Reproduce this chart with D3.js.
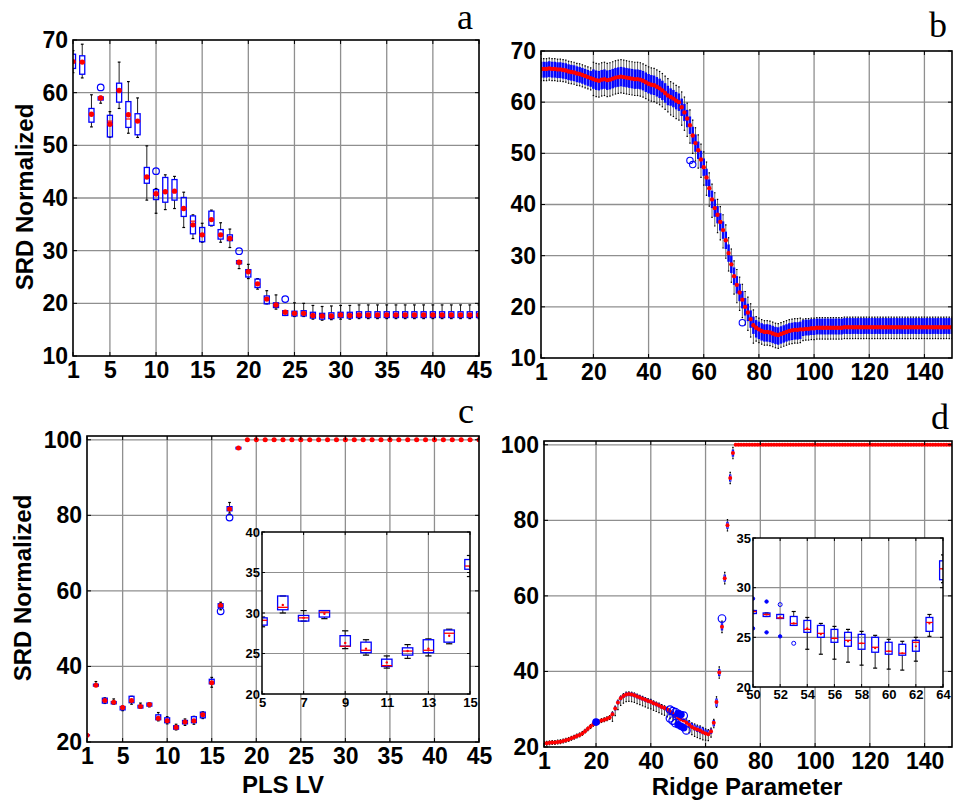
<!DOCTYPE html>
<html>
<head>
<meta charset="utf-8">
<script src="https://cdn.jsdelivr.net/npm/d3@7"></script>
<style>
  body { margin: 0; background: #fff; }
  svg text { font-family: "Liberation Sans", Arial, sans-serif; font-weight: bold; }
</style>
</head>
<body>
<div id="chart"></div>
<script>
// SRD boxplots: a/c = PLS latent variables, b/d = ridge parameter

// ---- panel a (PLS LV 1..45) ----
const aMean = [65.9,65.8,55.9,59.0,54.0,60.4,55.8,54.6,44.0,40.8,
  41.2,41.3,38.0,34.9,33.0,35.9,33.0,32.3,27.8,26.0,
  23.7,20.8,19.7,18.3,18.1,18.1,17.7,17.6,17.6,17.8,
  17.7,17.8,17.8,17.8,17.8,17.8,17.8,17.8,17.8,17.8,
  17.8,17.8,17.8,17.8,17.8];
const aMed = [65.9,65.8,55.9,59.0,54.6,60.4,55.0,54.6,44.0,40.8,
  41.2,41.3,38.0,35.6,33.0,35.9,33.0,32.3,27.8,26.0,
  23.7,20.8,19.7,18.3,18.1,18.1,17.7,17.6,17.6,17.8,
  17.7,17.8,17.8,17.8,17.8,17.8,17.8,17.8,17.8,17.8,
  17.8,17.8,17.8,17.8,17.8];
const aQ1 = [64.6,63.5,54.4,58.6,51.6,58.2,53.4,52.0,42.8,39.7,
  39.2,39.6,36.5,33.2,31.7,34.8,32.2,31.9,27.5,25.0,
  23.0,19.9,19.2,17.7,17.6,17.6,17.2,17.0,17.1,17.3,
  17.2,17.3,17.3,17.3,17.3,17.3,17.3,17.3,17.3,17.3,
  17.3,17.3,17.3,17.3,17.3];
const aQ3 = [67.3,67.0,57.0,59.2,55.7,61.8,58.3,56.0,45.8,41.6,
  43.9,43.5,40.1,36.6,34.4,37.5,34.0,33.0,28.1,26.4,
  24.6,21.4,20.1,18.6,18.5,18.6,18.3,18.1,18.2,18.3,
  18.3,18.4,18.4,18.4,18.4,18.4,18.4,18.4,18.4,18.4,
  18.4,18.4,18.4,18.4,18.4];
const aLo = [63.8,62.8,53.5,58.0,51.5,57.0,52.3,51.5,39.6,37.1,
  37.8,38.0,34.4,32.3,31.6,34.7,31.6,30.6,26.6,24.7,
  22.7,19.9,18.9,17.7,17.5,17.5,17.0,16.8,16.9,17.0,
  17.0,17.1,17.1,17.1,17.1,17.1,17.1,17.1,17.1,17.1,
  17.1,17.1,17.1,17.1,17.1];
const aHi = [68.0,69.2,59.6,59.3,56.4,65.8,62.1,59.0,49.9,41.8,
  44.4,44.1,41.1,36.8,35.2,37.7,35.3,34.1,28.1,27.4,
  24.7,22.4,21.6,18.6,20.1,20.0,19.6,19.4,19.5,19.6,
  19.6,19.7,19.7,19.7,19.7,19.7,19.7,19.7,19.7,19.7,
  19.7,19.7,19.7,19.7,19.7];
const aOut = [[4, 61.0], [10, 45.1], [19, 29.9], [24, 20.8]];

// ---- panel b (ridge parameter 1..150) ----
const bMed = [66.5,66.5,66.5,66.6,66.5,66.5,66.4,66.4,66.3,66.2,
  66.0,65.9,65.8,65.6,65.5,65.3,65.1,64.9,64.7,64.5,
  64.3,64.2,64.4,64.5,64.3,64.4,64.6,64.8,64.9,65.0,
  64.9,64.8,64.7,64.6,64.5,64.5,64.4,64.2,63.9,63.6,
  63.4,63.3,63.0,62.7,62.3,61.8,61.3,61.0,60.7,60.3,
  60.0,59.0,58.0,56.8,55.5,53.5,52.0,50.6,48.8,47.3,
  45.3,43.2,41.0,39.3,38.0,36.6,35.0,33.0,30.5,28.3,
  26.0,24.3,22.8,21.4,20.0,18.9,17.6,16.4,15.9,15.6,
  15.3,15.1,15.1,15.0,14.8,14.6,14.5,14.7,14.9,15.1,
  15.3,15.4,15.5,15.5,15.6,15.6,15.7,15.7,15.8,15.8,
  15.9,15.9,15.9,15.9,15.9,15.9,15.9,15.9,15.9,15.9,
  16.0,16.0,16.0,16.0,16.0,16.0,16.0,16.0,16.0,16.0,
  16.0,16.0,16.0,16.0,16.0,16.0,16.0,16.0,16.0,16.0,
  16.0,16.0,16.0,16.0,16.0,16.0,16.0,16.0,16.0,16.0,
  16.0,16.0,16.0,16.0,16.0,16.0,16.0,16.0,16.0,16.0];
// spread around median per range: [from, to, q1, q3, lowWhisker, highWhisker]
const bSpread = [
  [1, 19, -1.6, 1.3, -2.3, 2.0],
  [20, 47, -1.8, 1.8, -3.2, 3.3],
  [48, 78, -1.6, 1.6, -3.5, 3.0],
  [79, 95, -1.8, 1.4, -2.6, 2.2],
  [96, 150, -1.2, 1.7, -2.2, 2.0]
];
const bOut = [[55, 48.6], [56, 47.8], [74, 16.9]];

// ---- panel c (PLS LV 1..45) ----
const cMean = [21.8,35.0,31.0,30.5,29.1,31.0,29.4,29.9,26.3,25.6,
  23.9,25.3,25.6,27.2,35.7,56.1,81.7,97.8,100,100,
  100,100,100,100,100,100,100,100,100,100,
  100,100,100,100,100,100,100,100,100,100,
  100,100,100,100,100];
const cMed = [21.8,35.0,31.0,30.5,29.1,30.7,29.4,30.1,25.9,25.4,
  23.5,25.3,25.4,27.5,35.8,56.1,81.8,97.8,100,100,
  100,100,100,100,100,100,100,100,100,100,
  100,100,100,100,100,100,100,100,100,100,
  100,100,100,100,100];
const cQ1 = [21.7,34.8,30.3,30.1,28.5,30.4,29.0,29.5,25.9,25.1,
  23.4,24.8,25.1,26.4,35.4,55.6,81.2,97.6,100,100,
  100,100,100,100,100,100,100,100,100,100,
  100,100,100,100,100,100,100,100,100,100,
  100,100,100,100,100];
const cQ3 = [21.9,35.3,31.6,30.7,29.4,32.1,29.7,30.3,27.2,26.4,
  24.3,25.7,26.7,27.9,36.6,56.6,82.3,98.0,100,100,
  100,100,100,100,100,100,100,100,100,100,
  100,100,100,100,100,100,100,100,100,100,
  100,100,100,100,100];
const cLo = [21.7,34.7,30.2,30.0,28.3,30.0,29.0,29.3,25.6,24.8,
  23.2,24.4,24.7,26.2,34.5,55.0,80.6,97.5,100,100,
  100,100,100,100,100,100,100,100,100,100,
  100,100,100,100,100,100,100,100,100,100,
  100,100,100,100,100];
const cHi = [21.9,36.0,31.7,31.4,29.5,32.1,30.3,30.3,27.8,26.7,
  24.7,26.1,26.8,28.0,37.1,57.0,83.4,98.1,100,100,
  100,100,100,100,100,100,100,100,100,100,
  100,100,100,100,100,100,100,100,100,100,
  100,100,100,100,100];
const cOut = [[16, 54.6], [17, 79.4]];

// ---- panel d (ridge parameter 1..150) ----
const dMean = [21.0,21.0,21.1,21.2,21.2,21.3,21.4,21.6,21.8,22.0,
  22.3,22.6,22.9,23.2,23.6,24.2,24.8,25.4,26.0,26.4,
  26.7,27.0,27.2,27.5,27.8,28.7,30.2,31.8,32.9,33.5,
  33.9,34.0,33.9,33.7,33.4,33.1,32.8,32.5,32.2,32.0,
  31.6,31.3,31.0,30.6,30.3,29.9,29.4,28.9,28.3,27.6,
  27.3,27.0,26.4,25.9,25.3,24.9,24.6,24.4,23.9,23.6,
  23.4,24.1,26.4,31.9,39.7,51.8,64.7,78.7,91.2,97.8,
  100,100,100,100,100,100,100,100,100,100,
  100,100,100,100,100,100,100,100,100,100,
  100,100,100,100,100,100,100,100,100,100,
  100,100,100,100,100,100,100,100,100,100,
  100,100,100,100,100,100,100,100,100,100,
  100,100,100,100,100,100,100,100,100,100,
  100,100,100,100,100,100,100,100,100,100,
  100,100,100,100,100,100,100,100,100,100];
const dSpread = [
  [1, 25, -0.2, 0.2, -0.5, 0.5],
  [26, 49, -0.4, 0.4, -1.9, 0.6],
  [65, 70, -0.8, 0.8, -1.5, 1.5],
  [71, 150, 0, 0, 0, 0]
];
// boxes 50..64
const dDetX = [50,51,52,53,54,55,56,57,58,59,60,61,62,63,64];
const dDetMed = [27.6,27.3,26.95,26.4,25.8,25.4,24.9,24.7,24.4,24.0,23.6,23.4,24.5,26.5,31.9];
const dDetQ1 = [27.4,27.1,26.9,26.2,25.5,25.0,24.5,24.1,23.8,23.5,23.3,23.2,23.6,25.6,30.8];
const dDetQ3 = [27.7,27.45,27.3,27.1,26.7,26.2,25.8,25.5,25.3,25.0,24.5,24.3,24.7,27.0,32.7];
const dDetLo = [27.4,27.1,26.9,26.2,23.8,23.3,22.8,22.5,22.2,21.9,21.8,21.7,22.6,25.1,30.5];
const dDetHi = [27.7,27.45,27.3,27.6,27.0,26.4,26.1,25.8,25.6,25.2,24.8,24.6,25.0,27.3,33.3];
// [x, value, filled]
const dOut = [[20, 26.6, 1], [47, 29.9, 0], [47, 27.6, 0], [48, 29.5, 0], [48, 27.0, 0],
  [49, 29.2, 0], [49, 26.3, 0], [50, 28.9, 1], [50, 25.9, 1], [51, 28.6, 1], [51, 25.5, 1],
  [52, 28.3, 0], [52, 25.1, 1], [53, 24.4, 0], [66, 54.0, 0]];

const lvTicks = [1, 5, 10, 15, 20, 25, 30, 35, 40, 45];
const ridgeTicks = [1, 20, 40, 60, 80, 100, 120, 140];

// ---------------------------------------------------------------
const BLUE = "#0000ff", RED = "#ff0000";
const svg = d3.select("#chart").append("svg").attr("width", 953).attr("height", 809);

const aBoxes = d3.range(45).map(i => ({ x: i + 1, mean: aMean[i], med: aMed[i], q1: aQ1[i], q3: aQ3[i], lo: aLo[i], hi: aHi[i] }));
const cBoxes = d3.range(45).map(i => ({ x: i + 1, mean: cMean[i], med: cMed[i], q1: cQ1[i], q3: cQ3[i], lo: cLo[i], hi: cHi[i] }));

function spreadBox(m, i, spread) {
  const s = spread.find(s => i + 1 >= s[0] && i + 1 <= s[1]);
  return { x: i + 1, mean: m, med: m, q1: m + s[2], q3: m + s[3], lo: m + s[4], hi: m + s[5] };
}
const bBoxes = bMed.map((m, i) => spreadBox(m, i, bSpread));
const dBoxes = dMean.map((m, i) => {
  const j = dDetX.indexOf(i + 1);
  if (j >= 0) return { x: i + 1, mean: m, med: dDetMed[j], q1: dDetQ1[j], q3: dDetQ3[j], lo: dDetLo[j], hi: dDetHi[j] };
  return spreadBox(m, i, dSpread);
});

let clipN = 0;
function makePanel(o) {
  const x = d3.scaleLinear().domain(o.xDom).range([o.l, o.r]);
  const y = d3.scaleLinear().domain(o.yDom).range([o.b, o.t]);
  const g = svg.append("g");
  g.append("rect").attr("x", o.l).attr("y", o.t).attr("width", o.r - o.l).attr("height", o.b - o.t).attr("fill", "#fff");

  // grid
  g.append("g").selectAll("line").data(o.xGrid).join("line")
    .attr("x1", d => x(d)).attr("x2", d => x(d)).attr("y1", o.t).attr("y2", o.b)
    .attr("stroke", "#8f8f8f").attr("stroke-width", o.gw);
  g.append("g").selectAll("line").data(o.yGrid).join("line")
    .attr("y1", d => y(d)).attr("y2", d => y(d)).attr("x1", o.l).attr("x2", o.r)
    .attr("stroke", "#8f8f8f").attr("stroke-width", o.gw);

  const id = "clip" + (clipN++);
  svg.append("clipPath").attr("id", id).append("rect")
    .attr("x", o.l).attr("y", o.t).attr("width", o.r - o.l).attr("height", o.b - o.t);
  const plot = g.append("g").attr("clip-path", `url(#${id})`);
  return { g, plot, x, y, o };
}

function finishPanel(p) {
  const { g, x, y, o } = p;
  const tk = o.tick;
  // inward ticks on all four sides
  const tg = g.append("g").attr("stroke", "#000").attr("stroke-width", 1);
  o.xTicks.forEach(v => {
    tg.append("line").attr("x1", x(v)).attr("x2", x(v)).attr("y1", o.b).attr("y2", o.b - tk);
    tg.append("line").attr("x1", x(v)).attr("x2", x(v)).attr("y1", o.t).attr("y2", o.t + tk);
  });
  o.yTicks.forEach(v => {
    tg.append("line").attr("y1", y(v)).attr("y2", y(v)).attr("x1", o.l).attr("x2", o.l + tk);
    tg.append("line").attr("y1", y(v)).attr("y2", y(v)).attr("x1", o.r).attr("x2", o.r - tk);
  });
  g.append("rect").attr("x", o.l).attr("y", o.t).attr("width", o.r - o.l).attr("height", o.b - o.t)
    .attr("fill", "none").attr("stroke", "#000").attr("stroke-width", o.fw);

  const xa = g.append("g").attr("transform", `translate(0,${o.b})`)
    .call(d3.axisBottom(x).tickValues(o.xTicks).tickSize(0).tickPadding(o.xPad).tickFormat(d3.format("d")));
  xa.select(".domain").remove();
  xa.attr("font-size", o.fs).attr("font-family", null);
  const ya = g.append("g").attr("transform", `translate(${o.l},0)`)
    .call(d3.axisLeft(y).tickValues(o.yTicks).tickSize(0).tickPadding(o.yPad).tickFormat(d3.format("d")));
  ya.select(".domain").remove();
  ya.attr("font-size", o.fs).attr("font-family", null);
  g.selectAll(".tick text").attr("fill", "#000");
}

function drawBoxes(p, boxes, s) {
  const { plot, x, y } = p;
  const half = s.bw / 2, cap = s.cw / 2;
  const wg = plot.append("g").attr("stroke", s.wc).attr("stroke-width", s.ww);
  boxes.forEach(b => {
    wg.append("line").attr("x1", x(b.x)).attr("x2", x(b.x)).attr("y1", y(b.hi)).attr("y2", y(b.q3));
    wg.append("line").attr("x1", x(b.x)).attr("x2", x(b.x)).attr("y1", y(b.q1)).attr("y2", y(b.lo));
  });
  const cg = plot.append("g").attr("stroke", "#000").attr("stroke-width", s.capW);
  boxes.forEach(b => {
    [b.lo, b.hi].forEach(v => cg.append("line")
      .attr("x1", x(b.x - cap)).attr("x2", x(b.x + cap)).attr("y1", y(v)).attr("y2", y(v)));
  });
  plot.append("g").selectAll("rect").data(boxes).join("rect")
    .attr("x", d => x(d.x - half)).attr("width", d => x(d.x + half) - x(d.x - half))
    .attr("y", d => y(d.q3)).attr("height", d => Math.max(0, y(d.q1) - y(d.q3)))
    .attr("fill", s.fill || "none").attr("stroke", BLUE).attr("stroke-width", s.bsw);
  plot.append("g").selectAll("line").data(boxes).join("line")
    .attr("x1", d => x(d.x - half)).attr("x2", d => x(d.x + half))
    .attr("y1", d => y(d.med)).attr("y2", d => y(d.med))
    .attr("stroke", RED).attr("stroke-width", s.mw);
  plot.append("g").selectAll("circle").data(boxes).join("circle")
    .attr("cx", d => x(d.x)).attr("cy", d => y(d.mean)).attr("r", s.dr).attr("fill", RED);
}

function drawOutliers(p, pts, r, sw) {
  p.plot.append("g").selectAll("circle").data(pts).join("circle")
    .attr("cx", d => p.x(d[0])).attr("cy", d => p.y(d[1])).attr("r", d => d[2] ? r * 0.85 : r)
    .attr("fill", d => d[2] ? BLUE : "none").attr("stroke", BLUE).attr("stroke-width", sw);
}

function letter(t, x, y) {
  svg.append("text").attr("x", x).attr("y", y).attr("text-anchor", "middle")
    .style("font-family", "'Liberation Serif', 'Times New Roman', serif").style("font-weight", "normal")
    .attr("font-size", 36).text(t);
}

// ---- a ----
const pa = makePanel({ l: 73, r: 479, t: 40, b: 356, xDom: [1, 45], yDom: [10, 70],
  xGrid: [5, 10, 15, 20, 25, 30, 35, 40], yGrid: [20, 30, 40, 50, 60],
  xTicks: lvTicks, yTicks: [10, 20, 30, 40, 50, 60, 70], gw: 1.3, fw: 1.6, tick: 4, fs: 23, xPad: 6, yPad: 5 });
drawBoxes(pa, aBoxes, { bw: 0.55, cw: 0.3, wc: "#222", ww: 1, capW: 1.2, bsw: 1.3, mw: 1.2, dr: 2.7 });
drawOutliers(pa, aOut, 3.3, 1.2);
finishPanel(pa);

// ---- b ----
const pb = makePanel({ l: 541, r: 952, t: 51, b: 358, xDom: [1, 150], yDom: [10, 70],
  xGrid: [20, 40, 60, 80, 100, 120, 140], yGrid: [20, 30, 40, 50, 60],
  xTicks: ridgeTicks, yTicks: [10, 20, 30, 40, 50, 60, 70], gw: 1.3, fw: 1.6, tick: 4, fs: 23, xPad: 6, yPad: 5 });
drawBoxes(pb, bBoxes, { bw: 0.5, cw: 0.5, wc: "#444", ww: 0.8, capW: 1.2, bsw: 1, fill: BLUE, mw: 1, dr: 2.2 });
drawOutliers(pb, bOut, 3.2, 1.1);
finishPanel(pb);

// ---- c ----
const pc = makePanel({ l: 87, r: 479, t: 436, b: 742, xDom: [1, 45], yDom: [20, 101],
  xGrid: [5, 10, 15, 20, 25, 30, 35, 40], yGrid: [40, 60, 80, 100],
  xTicks: lvTicks, yTicks: [20, 40, 60, 80, 100], gw: 1.3, fw: 1.6, tick: 4, fs: 23, xPad: 6, yPad: 5 });
drawBoxes(pc, cBoxes, { bw: 0.55, cw: 0.3, wc: "#222", ww: 1, capW: 1.2, bsw: 1.3, mw: 1, dr: 2.5 });
drawOutliers(pc, cOut, 3.3, 1.2);
finishPanel(pc);

const pci = makePanel({ l: 262, r: 470, t: 532, b: 694, xDom: [5, 15], yDom: [20, 40],
  xGrid: [7, 9, 11, 13], yGrid: [25, 30, 35],
  xTicks: [5, 7, 9, 11, 13, 15], yTicks: [20, 25, 30, 35, 40], gw: 1.2, fw: 1.5, tick: 3, fs: 13, xPad: 4, yPad: 2 });
drawBoxes(pci, cBoxes, { bw: 0.5, cw: 0.3, wc: "#222", ww: 1, capW: 1.2, bsw: 1.3, mw: 1.3, dr: 1.2 });
finishPanel(pci);

// ---- d ----
const pd = makePanel({ l: 544, r: 952, t: 441, b: 747, xDom: [1, 150], yDom: [20, 101],
  xGrid: [20, 40, 60, 80, 100, 120, 140], yGrid: [40, 60, 80, 100],
  xTicks: ridgeTicks, yTicks: [20, 40, 60, 80, 100], gw: 1.3, fw: 1.6, tick: 4, fs: 23, xPad: 6, yPad: 5 });
drawBoxes(pd, dBoxes, { bw: 0.5, cw: 0.5, wc: "#222", ww: 0.8, capW: 1.2, bsw: 1, mw: 1, dr: 2.0 });
drawOutliers(pd, dOut, 3.8, 1.2);
finishPanel(pd);

const pdi = makePanel({ l: 753, r: 943, t: 538, b: 687, xDom: [50, 64], yDom: [20, 35],
  xGrid: [52, 54, 56, 58, 60, 62], yGrid: [25, 30],
  xTicks: [50, 52, 54, 56, 58, 60, 62, 64], yTicks: [20, 25, 30, 35], gw: 1.2, fw: 1.5, tick: 3, fs: 13, xPad: 3, yPad: 2 });
drawBoxes(pdi, dBoxes.filter(b => b.x >= 49 && b.x <= 65), { bw: 0.5, cw: 0.3, wc: "#222", ww: 1, capW: 1.2, bsw: 1.3, mw: 1.3, dr: 1.1 });
drawOutliers(pdi, dOut.filter(d => d[0] >= 50 && d[0] <= 64), 2.0, 1);
finishPanel(pdi);

// ---- labels ----
svg.append("text").attr("transform", "translate(33,197) rotate(-90)").attr("text-anchor", "middle")
  .attr("font-size", 24).text("SRD Normalized");
svg.append("text").attr("transform", "translate(31,588) rotate(-90)").attr("text-anchor", "middle")
  .attr("font-size", 24).text("SRD Normalized");
svg.append("text").attr("x", 283).attr("y", 793).attr("text-anchor", "middle").attr("font-size", 24).text("PLS LV");
svg.append("text").attr("x", 747).attr("y", 795).attr("text-anchor", "middle").attr("font-size", 24).text("Ridge Parameter");

letter("a", 465, 29);
letter("b", 938, 37);
letter("c", 466, 423);
letter("d", 940, 429);
</script>
</body>
</html>
